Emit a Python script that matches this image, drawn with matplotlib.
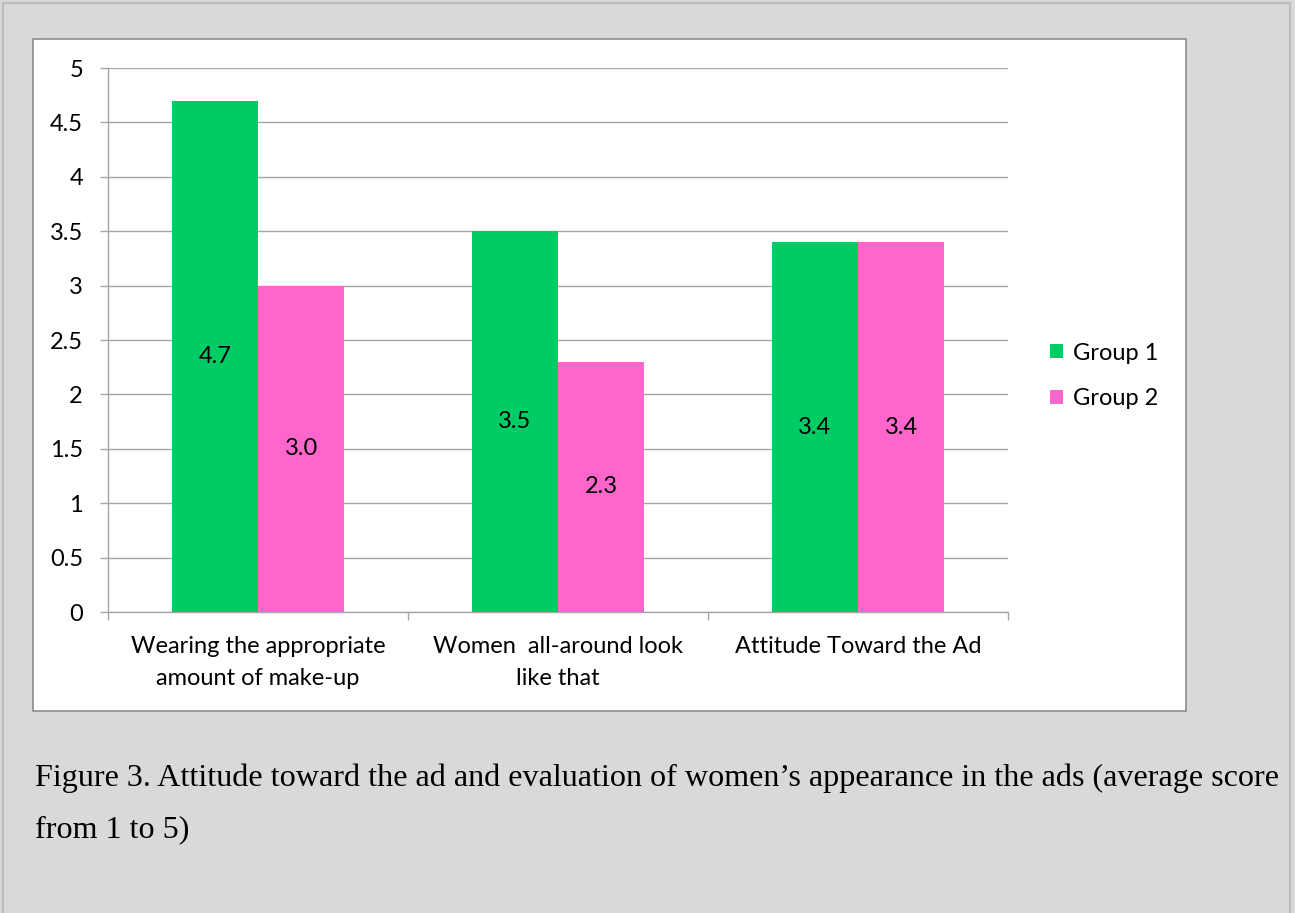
import matplotlib.pyplot as plt
from matplotlib.patches import Rectangle
import numpy as np

categories = ["Wearing the appropriate\namount of make-up",
              "Women  all-around look\nlike that",
              "Attitude Toward the Ad"]
group1 = [4.7, 3.5, 3.4]
group2 = [3.0, 2.3, 3.4]
series_names = ["Group 1", "Group 2"]
caption = ["Figure 3. Attitude toward the ad and evaluation of women\u2019s appearance in the ads (average score",
           "from 1 to 5)"]

W, H = 1295, 913
green = "#00CC66"
pink = "#FF66CC"
grid_col = "#a6a6a6"
font = "Lato"
fs = 17

fig = plt.figure(figsize=(W / 100, H / 100), dpi=100)
fig.patch.set_facecolor("#d9d9d9")

# outer border and white chart area (pixel coords)
def px_rect(x0, y0, x1, y1, **kw):
    r = Rectangle((x0 / W, 1 - y1 / H), (x1 - x0) / W, (y1 - y0) / H,
                  transform=fig.transFigure, zorder=-10, **kw)
    fig.patches.append(r)

px_rect(3, 3, 1290, 915, facecolor="none", edgecolor="#bdbdbd", lw=1.5)
px_rect(33, 39, 1186, 711, facecolor="white", edgecolor="#8c8c8c", lw=1.2)

ax = fig.add_axes([108 / W, 1 - 612 / H, 900 / W, 544 / H])
ax.set_facecolor("none")

x = np.arange(len(categories))
bw = 0.287
b1 = ax.bar(x - bw / 2, group1, bw, color=green, label=series_names[0], zorder=3)
b2 = ax.bar(x + bw / 2, group2, bw, color=pink, label=series_names[1], zorder=3)

for bars, vals in [(b1, group1), (b2, group2)]:
    for b, v in zip(bars, vals):
        ax.text(b.get_x() + b.get_width() / 2, v / 2, f"{v:.1f}",
                ha="center", va="center", fontsize=fs, family=font, zorder=4)

ax.set_xlim(-0.5, len(categories) - 0.5)
ax.set_ylim(0, 5)
ax.set_yticks(np.arange(0, 5.01, 0.5))
ax.set_yticklabels([f"{v:g}" for v in np.arange(0, 5.01, 0.5)], family=font, fontsize=fs)
ax.yaxis.grid(True, color=grid_col, lw=1, zorder=0)

ax.set_xticks(np.arange(-0.5, len(categories), 1.0))
ax.set_xticklabels([])
ax.set_xticks(x, minor=True)
ax.set_xticklabels(categories, minor=True, family=font, fontsize=fs, linespacing=1.65)
ax.tick_params(axis="x", which="minor", length=0, pad=17)
ax.tick_params(axis="x", which="major", length=6, color=grid_col, width=1)
ax.tick_params(axis="y", length=6, color=grid_col, width=1, pad=12)

for s in ["top", "right"]:
    ax.spines[s].set_visible(False)
for s in ["left", "bottom"]:
    ax.spines[s].set_color(grid_col)
    ax.spines[s].set_linewidth(1)

leg = ax.legend(loc="center left", bbox_to_anchor=(1029 / W, 1 - 376 / H),
                bbox_transform=fig.transFigure, frameon=False,
                prop={"family": font, "size": fs}, handlelength=0.55,
                handleheight=0.55, handletextpad=0.4, labelspacing=1.05)

for i, line in enumerate(caption):
    fig.text(35 / W, 1 - (778 + 52 * i) / H, line, family="Liberation Serif",
             fontsize=23.1, va="center", ha="left")

fig.savefig("out.png", dpi=100, facecolor=fig.get_facecolor())
